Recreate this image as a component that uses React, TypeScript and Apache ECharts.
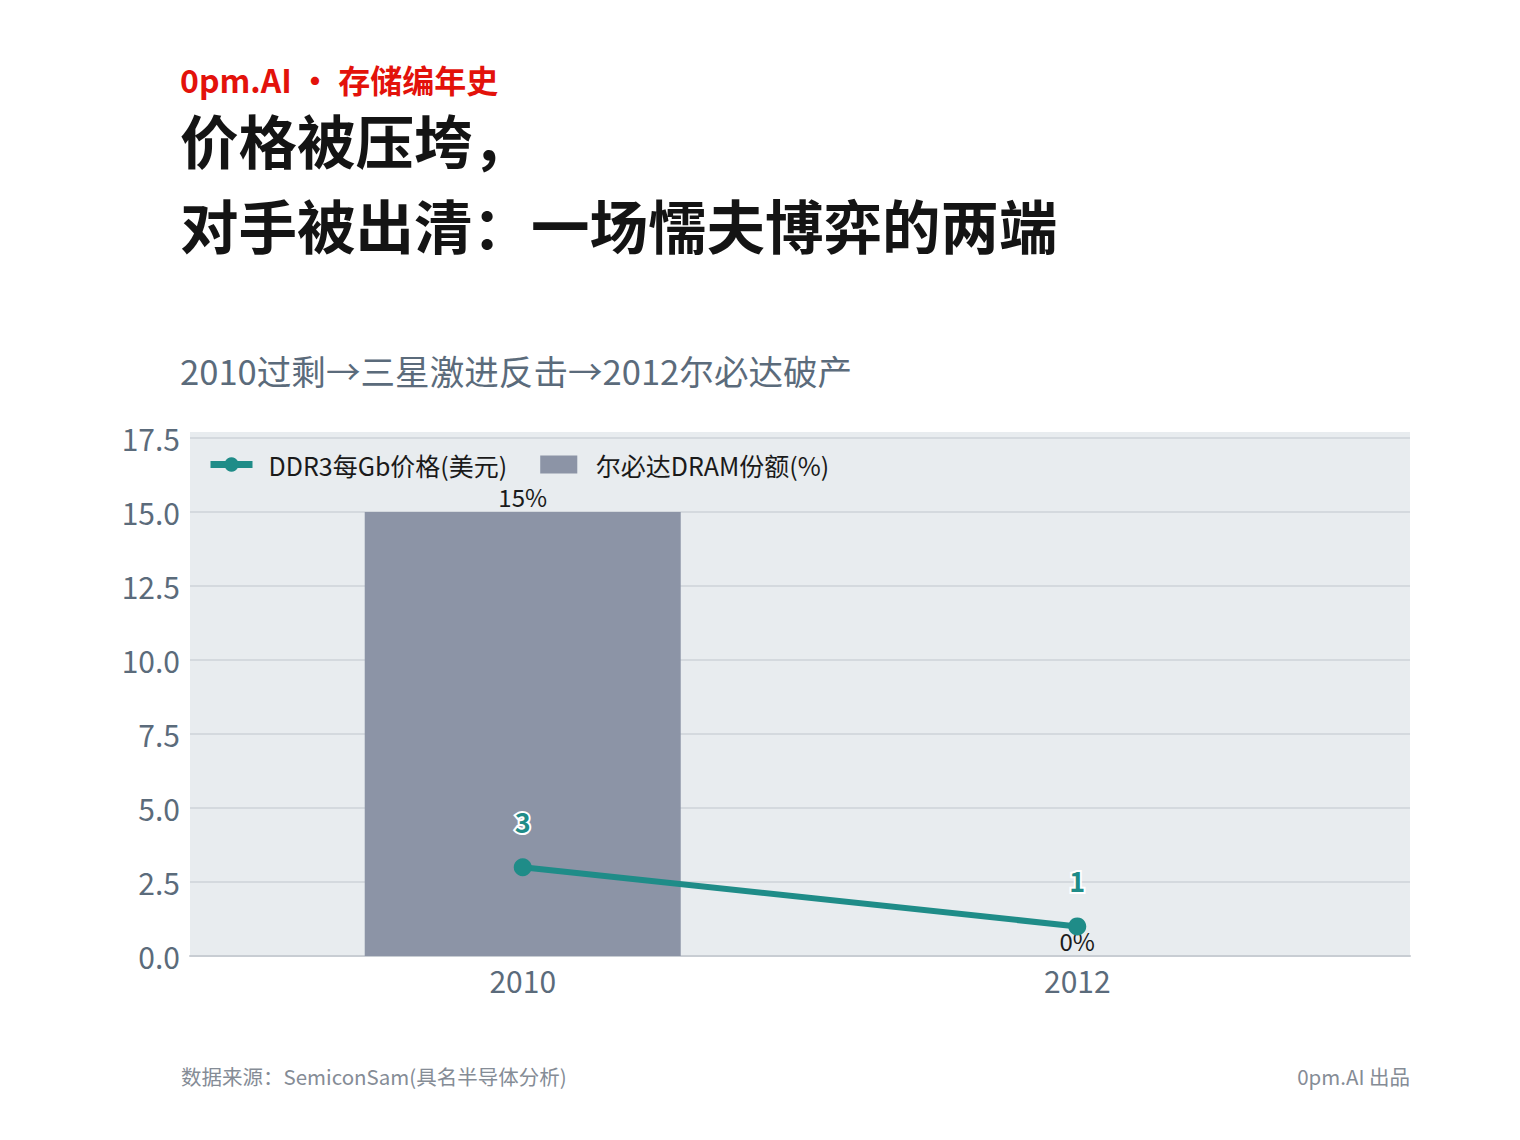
import React, { useEffect, useRef } from "react";
import * as echarts from "echarts";

const years = [2010, 2012];
const priceUSD = [3, 1];
const elpidaShare = [15, 0];
const yTicks = { min: 0, max: 17.5, interval: 2.5 };
const seriesNames = ["DDR3每Gb价格(美元)", "尔必达DRAM份额(%)"];
const kicker = "0pm.AI · 存储编年史";
const titleLines = ["价格被压垮，", "对手被出清：一场懦夫博弈的两端"];
const subtitle = "2010过剩→三星激进反击→2012尔必达破产";
const source = "数据来源：SemiconSam(具名半导体分析)";
const credit = "0pm.AI 出品";

const FONT = '"Noto Sans CJK SC", "Noto Sans", sans-serif';

export default function App() {
  const ref = useRef<HTMLDivElement>(null);
  useEffect(() => {
    document.body.style.margin = "0";
    const chart = echarts.init(ref.current!, null, { renderer: "svg" });
    chart.setOption({
      animation: false,
      backgroundColor: "#ffffff",
      textStyle: { fontFamily: FONT },
      graphic: [
        {
          type: "rect", z: -10, silent: true,
          shape: { x: 190, y: 432, width: 1220, height: 524 },
          style: { fill: "#e8ecef" },
        },
        {
          type: "text", left: 180, top: 63,
          style: { text: kicker, fill: "#e3120b", font: `bold 32px ${FONT}`, lineHeight: 32 },
        },
        {
          type: "text", left: 180, top: 108,
          style: { text: titleLines[0], fill: "#141414", font: `bold 58.5px ${FONT}`, lineHeight: 60 },
        },
        {
          type: "text", left: 180, top: 193,
          style: { text: titleLines[1], fill: "#141414", font: `bold 58.5px ${FONT}`, lineHeight: 60 },
        },
        {
          type: "text", left: 180, top: 353,
          style: { text: subtitle, fill: "#5b6b7b", font: `34.6px ${FONT}` },
        },
        {
          type: "text", left: 181, top: 1066,
          style: { text: source, fill: "#858c96", font: `20.5px ${FONT}` },
        },
        {
          type: "text", right: 110, top: 1066,
          style: { text: credit, fill: "#858c96", font: `20.5px ${FONT}` },
        },
      ],
      legend: {
        left: 202, top: 447,
        itemWidth: 42, itemHeight: 18, itemGap: 33,
        symbolKeepAspect: true,
        textStyle: { fontSize: 25, color: "#1a1a1a", fontFamily: FONT, padding: [0, 0, 0, 11] },
        data: [
          { name: seriesNames[0], lineStyle: { width: 7 } },
          { name: seriesNames[1], icon: "path://M0,0H35V17H0Z" },
        ],
      },
      grid: {
        left: 190, right: 110, top: 438, bottom: 184,
        show: false,
      },
      xAxis: {
        type: "value",
        min: 2008.8, max: 2013.2,
        splitLine: { show: false },
        axisLine: { show: true, lineStyle: { color: "#c8cdd3", width: 2 } },
        axisTick: { show: false },
        axisLabel: {
          customValues: years,
          formatter: (v: number) => String(v),
          fontSize: 30, color: "#5b6b7b", margin: 9, fontFamily: FONT,
        },
      },
      yAxis: {
        type: "value",
        min: yTicks.min, max: yTicks.max, interval: yTicks.interval,
        axisLine: { show: false },
        axisTick: { show: false },
        axisLabel: {
          formatter: (v: number) => v.toFixed(1),
          fontSize: 30, color: "#5b6b7b", margin: 10, fontFamily: FONT,
        },
        splitLine: { lineStyle: { color: "#d4d9de", width: 2 } },
      },
      series: [
        {
          name: seriesNames[1],
          type: "bar",
          data: years.map((y, i) => [y, elpidaShare[i]]),
          barWidth: 316,
          itemStyle: { color: "#8c94a6" },
          label: {
            show: true, position: "top", distance: 4,
            formatter: (p: any) => `${p.value[1]}%`,
            fontSize: 24, color: "#1a1a1a", fontFamily: FONT,
          },
          z: 2,
        },
        {
          name: seriesNames[0],
          type: "line",
          data: years.map((y, i) => [y, priceUSD[i]]),
          symbol: "circle", symbolSize: 18,
          lineStyle: { color: "#1f8c88", width: 6 },
          itemStyle: { color: "#1f8c88" },
          label: {
            show: true, position: "top", distance: 23,
            formatter: (p: any) => `${p.value[1]}`,
            fontSize: 27, fontWeight: "bold", color: "#1f8c88",
            textBorderColor: "#ffffff", textBorderWidth: 4, fontFamily: FONT,
          },
          z: 3,
        },
      ],
    });
    return () => chart.dispose();
  }, []);
  return <div ref={ref} style={{ width: 1520, height: 1140 }} />;
}
